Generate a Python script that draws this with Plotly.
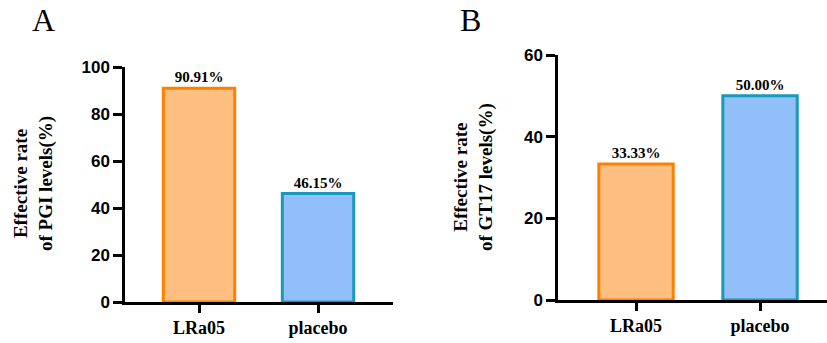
import plotly.graph_objects as go

categories = ["LRa05", "placebo"]
pgi_values = [90.91, 46.15]
gt17_values = [33.33, 50.00]
pgi_ticks = [0, 20, 40, 60, 80, 100]
gt17_ticks = [0, 20, 40, 60]

fill_colors = ["#FFBF80", "#91BFFA"]
line_colors = ["#FF8000", "#1A9AB8"]

W, H = 827, 343

fig = go.Figure()

def add_bars(vals, xa, ya):
    fig.add_trace(go.Bar(
        x=[0, 1], y=vals, width=0.6,
        marker=dict(color=fill_colors, line=dict(color=line_colors, width=3)),
        text=[f"{v:.2f}%" for v in vals], textposition="outside",
        textfont=dict(family="Liberation Serif", size=15, color="black", weight="bold"),
        constraintext="none", cliponaxis=False,
        xaxis=xa, yaxis=ya, showlegend=False, hoverinfo="skip"))

add_bars(pgi_values, "x", "y")
add_bars(gt17_values, "x2", "y2")

xcommon = dict(tickmode="array", tickvals=[0, 1], ticktext=categories,
               showline=True, linewidth=2.5, linecolor="black",
               ticks="outside", ticklen=8, tickwidth=2.5, tickcolor="black",
               showgrid=False, zeroline=False, automargin=False,
               tickfont=dict(family="Liberation Serif", size=18, color="black", weight="bold"))
ycommon = dict(showline=True, linewidth=2.5, linecolor="black",
               ticks="outside", ticklen=9, tickwidth=2.5, tickcolor="black",
               showgrid=False, zeroline=False, automargin=False,
               tickfont=dict(family="Liberation Sans", size=17, color="black", weight="bold"))

fig.update_layout(
    template="none",
    width=W, height=H, margin=dict(l=0, r=0, t=0, b=0, pad=0, autoexpand=False),
    paper_bgcolor="white", plot_bgcolor="white",
    xaxis=dict(domain=[125/W, 393/W], range=[-0.622, 1.630], anchor="y", **xcommon),
    yaxis=dict(domain=[41/H, 276/H], range=[0, 100], tickvals=pgi_ticks, anchor="x", **ycommon),
    xaxis2=dict(domain=[558/W, 1.0], range=[-0.629, 1.540], anchor="y2", **xcommon),
    yaxis2=dict(domain=[43/H, 288/H], range=[0, 60], tickvals=gt17_ticks, anchor="x2", **ycommon),
)

title_font = dict(family="Liberation Serif", size=19, color="black", weight="bold")
fig.add_annotation(x=33/W, y=1-184/H, xref="paper", yref="paper", textangle=-90,
                   text="Effective rate<br>of PGI levels(%)", showarrow=False,
                   font=title_font, xanchor="center", yanchor="middle")
fig.add_annotation(x=473/W, y=1-177/H, xref="paper", yref="paper", textangle=-90,
                   text="Effective rate<br>of GT17 levels(%)", showarrow=False,
                   font=title_font, xanchor="center", yanchor="middle")

letter_font = dict(family="Liberation Serif", size=32, color="black")
fig.add_annotation(x=43/W, y=1-20/H, xref="paper", yref="paper", text="A",
                   showarrow=False, font=letter_font, xanchor="center", yanchor="middle")
fig.add_annotation(x=470/W, y=1-20/H, xref="paper", yref="paper", text="B",
                   showarrow=False, font=letter_font, xanchor="center", yanchor="middle")

fig.write_html("out.html")
